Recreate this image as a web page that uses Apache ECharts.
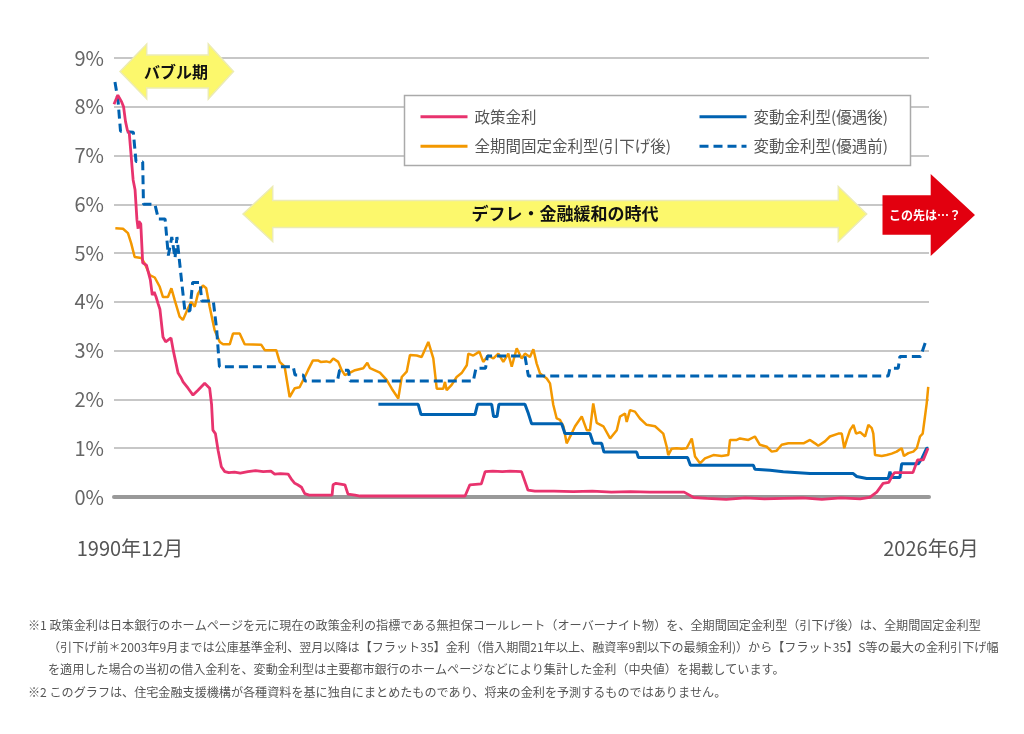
<!DOCTYPE html>
<html><head><meta charset="utf-8">
<script src="https://cdn.jsdelivr.net/npm/echarts@6/dist/echarts.min.js"></script>
<style>html,body{margin:0;padding:0;background:#fff}#c{width:1024px;height:734px}</style>
</head><body><div id="c"></div>
<script>
// x = months since 1990年12月 (0) … 2026年6月 (426)
const xEndLabels = ['1990年12月', '2026年6月'];
const xMaxMonth = 426;
const yTicks = [0, 1, 2, 3, 4, 5, 6, 7, 8, 9];
const seriesNames = ['政策金利', '全期間固定金利型(引下げ後)', '変動金利型(優遇後)', '変動金利型(優遇前)'];

const policyRate = [[0,8.05],[2,8.24],[4,8.1],[5,8.0],[6,7.7],[7,7.52],[8,7.45],[10,6.5],[11,6.3],[12,5.68],[12.6,5.5],[13,5.65],[14,5.6],[15,4.8],[17,4.75],[18,4.6],[19,4.45],[20,4.14],[21,4.2],[22,4.1],[23,3.97],[24,3.85],[25,3.84],[25.6,3.28],[27,3.18],[28,3.2],[29.8,3.26],[31,3.0],[33.5,2.54],[35,2.45],[36.1,2.36],[38.7,2.23],[41.3,2.09],[43.9,2.19],[47.4,2.33],[50,2.23],[51,1.9],[51.7,1.37],[53,1.3],[54.4,0.96],[56.1,0.62],[57.9,0.52],[60,0.5],[63,0.51],[66,0.49],[70,0.52],[74,0.54],[78,0.52],[82,0.53],[84,0.47],[87,0.48],[91,0.47],[93,0.35],[94.5,0.28],[96,0.25],[98,0.2],[99.7,0.07],[102,0.04],[114,0.04],[114.5,0.25],[116,0.28],[120.7,0.25],[122.3,0.06],[126,0.04],[128.6,0.02],[183.5,0.02],[186,0.25],[192,0.27],[194,0.52],[198,0.53],[203,0.52],[207,0.53],[213,0.52],[216.4,0.14],[220,0.12],[230,0.12],[240,0.11],[250,0.12],[260,0.1],[270,0.11],[280,0.1],[290,0.1],[298,0.1],[303,-0.01],[310,-0.03],[320,-0.05],[330,-0.02],[340,-0.04],[350,-0.03],[360,-0.02],[370,-0.05],[380,-0.02],[390,-0.04],[395,-0.01],[398.7,0.1],[402,0.28],[405,0.3],[407,0.45],[408,0.5],[417.6,0.5],[420,0.76],[423,0.76],[425.5,1.0]];

const fixedRate = [[0.7,5.51],[4.7,5.5],[7.3,5.41],[9,5.2],[10.8,4.92],[14.3,4.9],[16,4.79],[18.7,4.55],[21.3,4.5],[23.9,4.31],[25.6,4.1],[28.2,4.1],[30,4.28],[31.7,4.04],[34.3,3.7],[36,3.63],[38.7,3.87],[40.4,4.0],[42.2,3.9],[43.9,4.17],[46.5,4.34],[48.2,4.28],[50,3.9],[52.6,3.42],[55.3,3.18],[57,3.13],[60.5,3.13],[62.2,3.35],[65.7,3.35],[68.3,3.13],[77,3.12],[78.8,3.01],[84.8,3.01],[86.6,2.77],[89.2,2.67],[91.8,2.05],[94.5,2.23],[97,2.25],[99.7,2.46],[101.4,2.6],[104,2.8],[106.6,2.8],[108,2.77],[111,2.78],[112.9,2.76],[114.6,2.84],[117.2,2.77],[118.1,2.74],[119,2.6],[120.7,2.5],[123.4,2.55],[126,2.6],[130.3,2.64],[132.4,2.75],[133.8,2.64],[139,2.55],[142.5,2.4],[145.2,2.22],[148.6,2.02],[150.4,2.46],[153,2.57],[154.7,2.91],[158.2,2.9],[159,2.94],[160.8,2.87],[164.3,3.18],[166.9,2.84],[168.7,2.22],[172.1,2.22],[173,2.36],[173.9,2.19],[176.5,2.3],[179.1,2.46],[181.7,2.54],[184.4,2.7],[185.2,2.94],[187.8,2.9],[191,2.98],[193,2.77],[195.6,2.9],[198.3,2.84],[200.9,2.94],[203.5,2.77],[206.1,2.94],[207.9,2.67],[210.5,3.05],[213.1,2.84],[214.8,2.94],[217.4,2.87],[219.2,3.03],[220.9,2.74],[222.7,2.53],[226.2,2.43],[227.9,2.33],[229.6,1.89],[231.4,1.61],[233.1,1.58],[234.9,1.45],[236.6,1.1],[239.2,1.3],[241,1.45],[244.5,1.65],[247.1,1.37],[248.8,1.37],[250.5,1.92],[252.3,1.52],[255.8,1.45],[259.3,1.2],[262.8,1.37],[264.5,1.65],[267.1,1.71],[268,1.54],[269.7,1.78],[272.3,1.75],[274.9,1.61],[278.4,1.48],[282.8,1.45],[287.1,1.3],[288.9,1.03],[289.7,0.86],[291.5,0.99],[294.1,1.0],[296.7,0.99],[299.3,1.0],[302,1.2],[303.7,0.83],[306.3,0.69],[308.9,0.79],[313.3,0.86],[317.6,0.84],[321.1,0.86],[322,1.17],[325.5,1.17],[327.2,1.2],[331.6,1.17],[335,1.24],[337.6,1.07],[341.2,1.03],[343.8,0.93],[346.4,0.95],[349,1.07],[352.5,1.1],[356.9,1.1],[360.4,1.1],[363.8,1.17],[366.4,1.1],[368.1,1.05],[371.6,1.14],[374.2,1.24],[378.6,1.3],[380.4,1.3],[381.7,1.0],[383,1.17],[384.7,1.37],[386.5,1.48],[387.9,1.3],[390,1.33],[392.6,1.24],[394.3,1.48],[396.1,1.41],[396.9,1.3],[397.8,0.86],[401.3,0.84],[403.9,0.86],[406.5,0.89],[409.1,0.93],[411.7,1.0],[412.9,0.84],[415.2,0.9],[417.8,0.93],[419.6,1.0],[421.3,1.24],[422.7,1.3],[423.9,1.65],[424.8,1.92],[425.6,2.26]];

const variableAfter = [[138.2,1.9],[159,1.9],[160.5,1.69],[188.7,1.69],[190,1.9],[197.4,1.9],[198.4,1.65],[200.2,1.65],[201.2,1.9],[214.8,1.9],[216.6,1.71],[218.3,1.5],[234,1.5],[235.7,1.3],[248.8,1.3],[250.5,1.1],[254.9,1.1],[256.1,0.92],[273.2,0.92],[274.1,0.81],[299.8,0.81],[301.3,0.65],[334.2,0.65],[335,0.57],[342.9,0.55],[349.8,0.52],[363.8,0.48],[386.4,0.48],[388.2,0.42],[393.4,0.38],[404.7,0.38],[405.6,0.52],[406.4,0.4],[410.8,0.4],[411.7,0.68],[420.4,0.68],[422.4,0.8],[424.8,1.0],[425.6,1.0]];

const variableBefore = [[0.5,8.51],[2.1,8.13],[3.4,7.5],[10.1,7.48],[11.5,6.88],[15,6.87],[15.4,6.0],[21.4,6.0],[23.2,5.7],[26.7,5.7],[28.4,4.95],[30.2,5.33],[31.9,4.9],[32.9,5.33],[35.4,4.4],[37.1,3.8],[39.7,3.82],[41.1,4.4],[45,4.4],[45.8,4.02],[51.9,4.02],[53.7,3.42],[55.1,2.67],[93.7,2.67],[94.6,2.5],[98.9,2.5],[99.8,2.38],[116.8,2.38],[117.9,2.6],[122.5,2.6],[123.4,2.38],[187.8,2.38],[189.2,2.64],[194.2,2.64],[195.2,2.89],[214.8,2.89],[216.6,2.48],[404.7,2.48],[405.6,2.64],[409.9,2.64],[410.8,2.88],[421.6,2.88],[424.2,3.18]];

const notes = [
  '※1 政策金利は日本銀行のホームページを元に現在の政策金利の指標である無担保コールレート（オーバーナイト物）を、全期間固定金利型（引下げ後）は、全期間固定金利型',
  '（引下げ前＊2003年9月までは公庫基準金利、翌月以降は【フラット35】金利（借入期間21年以上、融資率9割以下の最頻金利)）から【フラット35】S等の最大の金利引下げ幅',
  'を適用した場合の当初の借入金利を、変動金利型は主要都市銀行のホームページなどにより集計した金利（中央値）を掲載しています。',
  '※2 このグラフは、住宅金融支援機構が各種資料を基に独自にまとめたものであり、将来の金利を予測するものではありません。'
];

const FONT = '"Noto Sans CJK JP", "Noto Sans", sans-serif';
const colors = { pink: '#e8336e', orange: '#f39800', blue: '#0062b1' };

const chart = echarts.init(document.getElementById('c'));

const yellow = '#fcf86c';
const noteEls = notes.map((t, i) => ({
  type: 'text', left: (i === 0 || i === 3) ? 28 : 48, top: 619 + i * 22.3, z: 10,
  style: { text: t, font: '12.1px ' + FONT, fill: '#555' }
}));

const legendBase = {
  orient: 'vertical', top: 109, itemWidth: 47, itemHeight: 14, itemGap: 14, padding: 0, z: 20,
  itemStyle: { opacity: 0 },
  lineStyle: { width: 3 },
  textStyle: { fontSize: 15.5, color: '#555', fontFamily: FONT, padding: [0, 0, 0, 2] }
};

chart.setOption({
  animation: false,
  textStyle: { fontFamily: FONT },
  grid: { left: 114, right: 95, top: 58, bottom: 237 },
  xAxis: {
    type: 'value', min: 0, max: xMaxMonth,
    axisLine: { show: true, lineStyle: { color: '#999', width: 4 } },
    axisTick: { show: false }, axisLabel: { show: false }, splitLine: { show: false }
  },
  yAxis: {
    type: 'value', min: yTicks[0], max: yTicks[yTicks.length - 1], interval: 1,
    axisLine: { show: false }, axisTick: { show: false },
    axisLabel: { formatter: '{value}%', fontSize: 20, color: '#666', margin: 10, fontFamily: FONT },
    splitLine: { lineStyle: { color: '#b4b4b4', width: 1.5 } }
  },
  legend: [
    Object.assign({}, legendBase, { data: [seriesNames[0], seriesNames[1]], left: 419 }),
    Object.assign({}, legendBase, { data: [seriesNames[2], seriesNames[3]], left: 698 })
  ],
  series: [
    { name: seriesNames[1], type: 'line', data: fixedRate, symbol: 'none', clip: false, z: 3,
      lineStyle: { color: colors.orange, width: 2.5 }, itemStyle: { color: colors.orange } },
    { name: seriesNames[3], type: 'line', data: variableBefore, symbol: 'none', clip: false, z: 3,
      lineStyle: { color: colors.blue, width: 3, type: [9, 5] }, itemStyle: { color: colors.blue } },
    { name: seriesNames[2], type: 'line', data: variableAfter, symbol: 'none', clip: false, z: 4,
      lineStyle: { color: colors.blue, width: 3 }, itemStyle: { color: colors.blue } },
    { name: seriesNames[0], type: 'line', data: policyRate, symbol: 'none', clip: false, z: 4,
      lineStyle: { color: colors.pink, width: 2.8 }, itemStyle: { color: colors.pink } }
  ],
  graphic: [
    { type: 'rect', z: 10, shape: { x: 404.5, y: 95.5, width: 506, height: 70 },
      style: { fill: '#fff', stroke: '#aaa', lineWidth: 1.5 } },
    { type: 'polygon', z: 10, shape: { points: [[120,71.5],[146.7,44],[146.7,55],[208.3,55],[208.3,44],[233.5,71.5],[208.3,99],[208.3,88],[146.7,88],[146.7,99]] },
      style: { fill: yellow, stroke: '#ecebb4', lineWidth: 1.5 } },
    { type: 'text', z: 11, x: 176, y: 72, style: { text: 'バブル期', font: 'bold 16px ' + FONT, fill: '#111', align: 'center', verticalAlign: 'middle' } },
    { type: 'polygon', z: 10, shape: { points: [[243,214],[272.7,186.5],[272.7,200.5],[838.3,200.5],[838.3,186.5],[866.7,214],[838.3,241.5],[838.3,227.5],[272.7,227.5],[272.7,241.5]] },
      style: { fill: yellow, stroke: '#ecebb4', lineWidth: 1.5 } },
    { type: 'text', z: 11, x: 565, y: 214, style: { text: 'デフレ・金融緩和の時代', font: 'bold 17px ' + FONT, fill: '#111', align: 'center', verticalAlign: 'middle' } },
    { type: 'polygon', z: 10, shape: { points: [[882.5,195.3],[930.7,195.3],[930.7,174],[975,215],[930.7,256],[930.7,234.7],[882.5,234.7]] },
      style: { fill: '#e2000f' } },
    { type: 'text', z: 11, x: 925, y: 215, style: { text: 'この先は…？', font: 'bold 12px ' + FONT, fill: '#fff', align: 'center', verticalAlign: 'middle' } },
    { type: 'text', z: 11, x: 130, y: 548, style: { text: xEndLabels[0], font: '20px ' + FONT, fill: '#555', align: 'center', verticalAlign: 'middle' } },
    { type: 'text', z: 11, x: 931, y: 548, style: { text: xEndLabels[1], font: '20px ' + FONT, fill: '#555', align: 'center', verticalAlign: 'middle' } }
  ].concat(noteEls)
});
</script>
</body></html>
